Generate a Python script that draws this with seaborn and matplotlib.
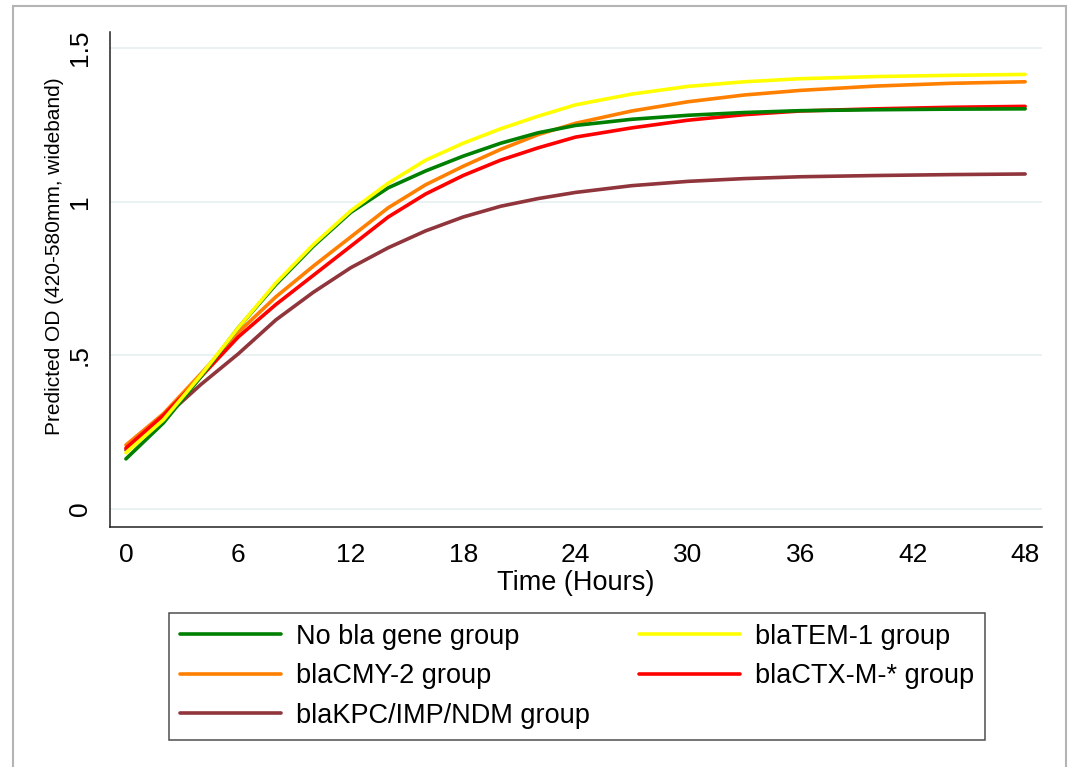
import pandas as pd
import matplotlib.pyplot as plt
import seaborn as sns
from matplotlib.patches import Rectangle

# predicted OD curves
hours = [0, 2, 4, 6, 8, 10, 12, 14, 16, 18, 20, 22, 24, 27, 30, 33, 36, 40, 44, 48]
no_bla = [0.163, 0.28, 0.43, 0.59, 0.73, 0.855, 0.965, 1.045, 1.10, 1.148, 1.19, 1.224,
          1.248, 1.268, 1.281, 1.29, 1.296, 1.299, 1.301, 1.302]
tem1 = [0.183, 0.29, 0.435, 0.59, 0.735, 0.86, 0.97, 1.06, 1.135, 1.19, 1.237, 1.278,
        1.315, 1.35, 1.375, 1.39, 1.40, 1.407, 1.411, 1.414]
cmy2 = [0.208, 0.31, 0.44, 0.575, 0.69, 0.79, 0.885, 0.98, 1.055, 1.115, 1.17, 1.218,
        1.255, 1.295, 1.325, 1.347, 1.362, 1.376, 1.385, 1.390]
ctxm = [0.198, 0.305, 0.43, 0.56, 0.665, 0.76, 0.855, 0.95, 1.025, 1.085, 1.135, 1.175,
        1.21, 1.24, 1.265, 1.283, 1.295, 1.302, 1.307, 1.310]
kpc = [0.192, 0.295, 0.405, 0.505, 0.615, 0.705, 0.785, 0.85, 0.905, 0.95, 0.985, 1.01,
       1.03, 1.052, 1.066, 1.075, 1.081, 1.085, 1.088, 1.090]

groups = ['No bla gene group', 'blaCMY-2 group', 'blaKPC/IMP/NDM group',
          'blaTEM-1 group', 'blaCTX-M-* group']
colors = {'No bla gene group': '#008000', 'blaTEM-1 group': '#ffff00',
          'blaCMY-2 group': '#ff8000', 'blaCTX-M-* group': '#ff0000',
          'blaKPC/IMP/NDM group': '#90353b'}
series = {'No bla gene group': no_bla, 'blaTEM-1 group': tem1, 'blaCMY-2 group': cmy2,
          'blaCTX-M-* group': ctxm, 'blaKPC/IMP/NDM group': kpc}

df = pd.concat([pd.DataFrame({'hour': hours, 'od': v, 'group': k}) for k, v in series.items()])

sns.set_theme(style='white')
plt.rcParams['font.family'] = ['Liberation Sans', 'DejaVu Sans']
plt.rcParams['text.color'] = 'black'

fig = plt.figure(figsize=(10.7, 7.67), dpi=100)
ax = fig.add_axes([110/1070, 1-527/767, 932/1070, 495/767])

# draw order as in the original (later ones on top)
plot_order = ['blaKPC/IMP/NDM group', 'blaCMY-2 group', 'blaCTX-M-* group',
              'No bla gene group', 'blaTEM-1 group']
sns.lineplot(data=df, x='hour', y='od', hue='group', hue_order=plot_order,
             palette=colors, linewidth=2.6, ax=ax, legend=False)

for y in [0, 0.5, 1, 1.5]:
    ax.axhline(y, color='#e6eff1', lw=1.2, zorder=0)

ax.set_xlim(-0.85, 48.9)
ax.set_ylim(-0.0586, 1.552)
ax.set_xticks(range(0, 49, 6))
ax.set_yticks([0, 0.5, 1, 1.5])
ax.set_yticklabels(['0', '.5', '1', '1.5'], rotation=90, va='center')
ax.tick_params(axis='both', direction='out', length=7.2, width=1.1, color='#222222',
               labelsize=19, labelcolor='black')
ax.tick_params(axis='x', pad=4)
ax.tick_params(axis='y', pad=6)
for s in ['top', 'right']:
    ax.spines[s].set_visible(False)
for s in ['left', 'bottom']:
    ax.spines[s].set_color('#222222')
    ax.spines[s].set_linewidth(1.1)

ax.set_xlabel('Time (Hours)', fontsize=19.5, color='black')
ax.xaxis.set_label_coords(0.5, -0.087)
ax.set_ylabel('Predicted OD (420-580mm, wideband)', fontsize=15, color='black')
ax.yaxis.set_label_coords(-0.049, 0.547)

handles = [plt.Line2D([], [], color=colors[g], lw=2.6) for g in groups]
leg = ax.legend(handles, groups, ncol=2, loc='upper left',
                bbox_to_anchor=(169/1070, 1-613/767), bbox_transform=fig.transFigure,
                borderaxespad=0, fontsize=19.5, frameon=True, fancybox=False,
                handlelength=3.75, handletextpad=0.55, columnspacing=1.8,
                labelspacing=0.5, borderpad=0.4)
leg.get_frame().set_edgecolor('#222222')
leg.get_frame().set_linewidth(1.1)

# outer graph region border
fig.patches.append(Rectangle((13/1070, -0.05), 1053/1070, 1.05 - 6/767,
                             transform=fig.transFigure, fill=False,
                             edgecolor='#b4b4b4', lw=1.5))

fig.savefig('out.png', dpi=100)
